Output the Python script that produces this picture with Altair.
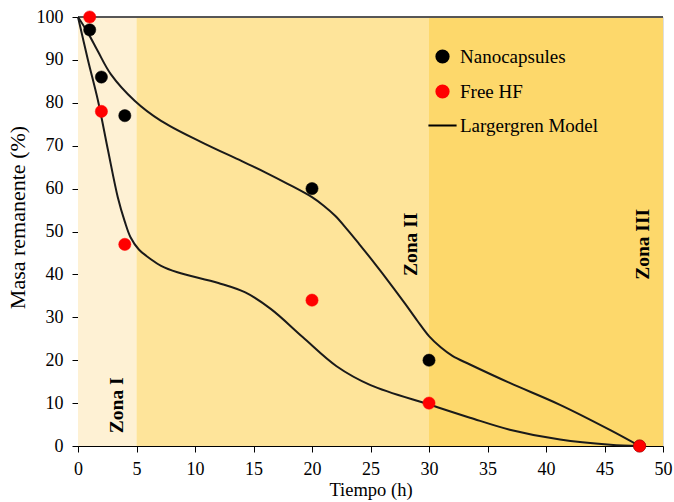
import altair as alt
import pandas as pd

# Measured points
nano_t = [1, 2, 4, 20, 30, 48]
nano_m = [97, 86, 77, 60, 20, 0]
free_t = [1, 2, 4, 20, 30, 48]
free_m = [100, 78, 47, 34, 10, 0]

# Largergren model curves
nano_model_t = [0, 0.85, 1.7, 2.8, 4.84, 7.1, 10.5, 14, 16, 18, 20, 21, 22, 23, 24, 25, 26, 27, 28, 29, 30, 31, 32, 33.5, 36.9, 41.2, 45.5, 48]
nano_model_m = [100, 96.3, 92, 86.7, 80.5, 75.8, 70.9, 66.4, 63.8, 61.0, 58.0, 56.0, 53.6, 50.5, 47.2, 43.8, 40.3, 36.7, 33.0, 29.2, 25.6, 23.0, 21.0, 19.0, 14.7, 9.6, 3.7, 0]
free_model_t = [0, 0.85, 1.7, 2.56, 3.4, 4.0, 4.5, 5.2, 6.2, 7.1, 8.5, 12, 14.3, 16.5, 19.2, 22.1, 25, 30.1, 33.5, 36.9, 41.2, 45.5, 48]
free_model_m = [100, 90, 80.6, 69, 58, 52.3, 48.6, 45.8, 43.6, 42, 40.5, 38, 35.8, 31.9, 25.4, 18.6, 14.2, 9.6, 6.6, 3.8, 1.5, 0.3, 0]

# Zones
zone_start = [0, 5, 30]
zone_end = [5, 30, 50]
zone_color = ["#FEF1D4", "#FEE49A", "#FDD86B"]
zone_label = ["Zona I", "Zona II", "Zona III"]
zone_label_x = [3.3, 28.5, 48.3]
zone_label_y = [9.5, 47, 47]

series_domain = ["Nanocapsules", "Free HF", "Largergren Model"]
series_colors = ["#000000", "#FF0000", "#000000"]
series_shapes = ["circle", "circle", "M-2.3,0H2.3"]

FONT = "Liberation Serif"

zones = pd.DataFrame({"x": zone_start, "x2": zone_end, "c": zone_color})
labels = pd.DataFrame({"x": zone_label_x, "y": zone_label_y, "t": zone_label})
points = pd.DataFrame({
    "t": nano_t + free_t,
    "m": nano_m + free_m,
    "series": ["Nanocapsules"] * len(nano_t) + ["Free HF"] * len(free_t),
})
model = pd.DataFrame({
    "t": nano_model_t + free_model_t,
    "m": nano_model_m + free_model_m,
    "curve": ["nano"] * len(nano_model_t) + ["free"] * len(free_model_t),
})

xscale = alt.Scale(domain=[0, 50], nice=False, zero=False)
yscale = alt.Scale(domain=[0, 100], nice=False)

xaxis = alt.Axis(title="Tiempo (h)", values=list(range(0, 51, 5)), grid=False,
                 tickSize=6, labelFontSize=18, titleFontSize=18.5, labelFont=FONT,
                 titleFont=FONT, titleFontWeight="normal", labelColor="#000",
                 titleColor="#000", domainColor="#000", tickColor="#000",
                 labelPadding=8, titlePadding=2, labelFlush=False)
yaxis = alt.Axis(title="Masa remanente (%)", values=list(range(0, 101, 10)), grid=False,
                 tickSize=6, labelFontSize=18, titleFontSize=22, labelFont=FONT,
                 titleFont=FONT, titleFontWeight="normal", labelColor="#000",
                 titleColor="#000", domainColor="#000", tickColor="#000",
                 labelPadding=9, titlePadding=7, labelFlush=False, titleY=200)

bg = alt.Chart(zones).mark_rect().encode(
    x=alt.X("x:Q", scale=xscale, axis=xaxis),
    x2="x2:Q",
    y=alt.value(0),
    y2=alt.value(429),
    fill=alt.Fill("c:N", scale=None),
)

top = alt.Chart(zones).mark_rule(color="#555", strokeWidth=1.5).encode(
    y=alt.datum(100, scale=yscale), x=alt.value(0), x2=alt.value(585)
)

txt = alt.Chart(labels).mark_text(angle=270, font=FONT, fontWeight="bold",
                                  fontSize=19.5, color="#000").encode(
    x=alt.X("x:Q", scale=xscale),
    y=alt.Y("y:Q", scale=yscale),
    text="t:N",
)

lines = alt.Chart(model).mark_line(color="#1a1a1a", strokeWidth=2,
                                   interpolate="catmull-rom").encode(
    x=alt.X("t:Q", scale=xscale),
    y=alt.Y("m:Q", scale=yscale, axis=yaxis),
    detail="curve:N",
)

leg = alt.Legend(title=None, orient="none", legendX=355, legendY=30,
                 labelFont=FONT, labelFontSize=19, labelColor="#000",
                 symbolSize=150, rowPadding=14, labelOffset=8,
                 symbolStrokeWidth=2)

pts = alt.Chart(points).mark_point(filled=True, opacity=1, size=150, strokeWidth=0.5).encode(
    x=alt.X("t:Q", scale=xscale),
    y=alt.Y("m:Q", scale=yscale),
    color=alt.Color("series:N",
                    scale=alt.Scale(domain=series_domain, range=series_colors),
                    legend=leg),
    stroke=alt.Stroke("series:N",
                      scale=alt.Scale(domain=series_domain, range=series_colors),
                      legend=leg),
    shape=alt.Shape("series:N",
                    scale=alt.Scale(domain=series_domain, range=series_shapes),
                    legend=leg),
)

chart = alt.layer(bg, top, txt, lines, pts).properties(
    width=585, height=429,
    autosize=alt.AutoSizeParams(type="none"),
    padding={"left": 78, "top": 17, "right": 11, "bottom": 56},
).configure_view(stroke=None).configure(background="white")

chart.save("out.html", embed_options={"renderer": "svg", "actions": False})
